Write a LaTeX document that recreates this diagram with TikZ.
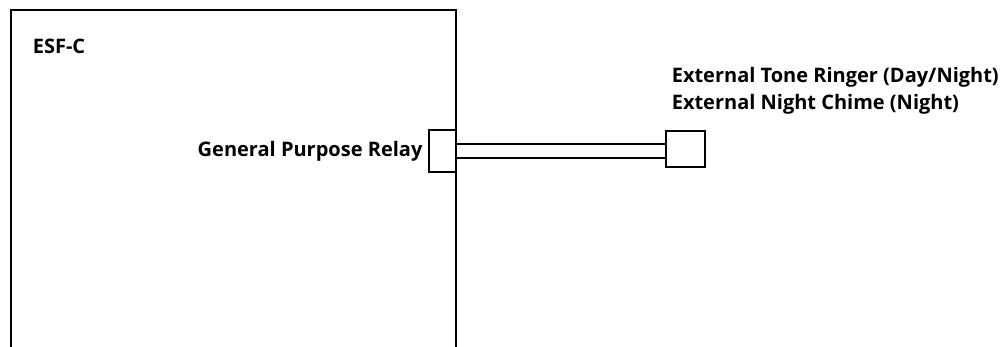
\documentclass[tikz,border=0pt]{standalone}
\usepackage{fontspec}
\setmainfont{Open Sans}
\usetikzlibrary{positioning}

\begin{document}
\begin{tikzpicture}[
        x=1pt, y=-1pt,
        line width=1.6pt,
        port/.style={draw, fill=white, inner sep=0pt},
        lbl/.style={font=\fontsize{20}{24}\selectfont\bfseries, inner sep=0pt},
        wire/.style={double distance=12.5pt, line width=1.6pt}
      ]
        \useasboundingbox (0,0) rectangle (1007,347);
        % ESF-C cabinet, open at the bottom
        \draw (11,347) -- (11,10) -- (456,10) -- (456,347);
        \node[lbl, anchor=west] (esf) at (32,46) {ESF-C};
        \node[port, minimum width=27pt, minimum height=42pt] (relay) at (442.5,151) {};
        \node[lbl, left=5pt of relay] (relaytxt) {General Purpose Relay};
        \node[port, minimum width=39pt, minimum height=36pt] (ringer) at (685.5,149) {};
        \node[lbl, anchor=west] (tone) at (671,77) {External Tone Ringer (Day/Night)};
        \node[lbl, below=6pt of tone.south west, anchor=north west] (chime) {External Night Chime (Night)};
        \draw[wire] (relay.east) -- (relay.east -| ringer.west);
      \end{tikzpicture}
\end{document}
